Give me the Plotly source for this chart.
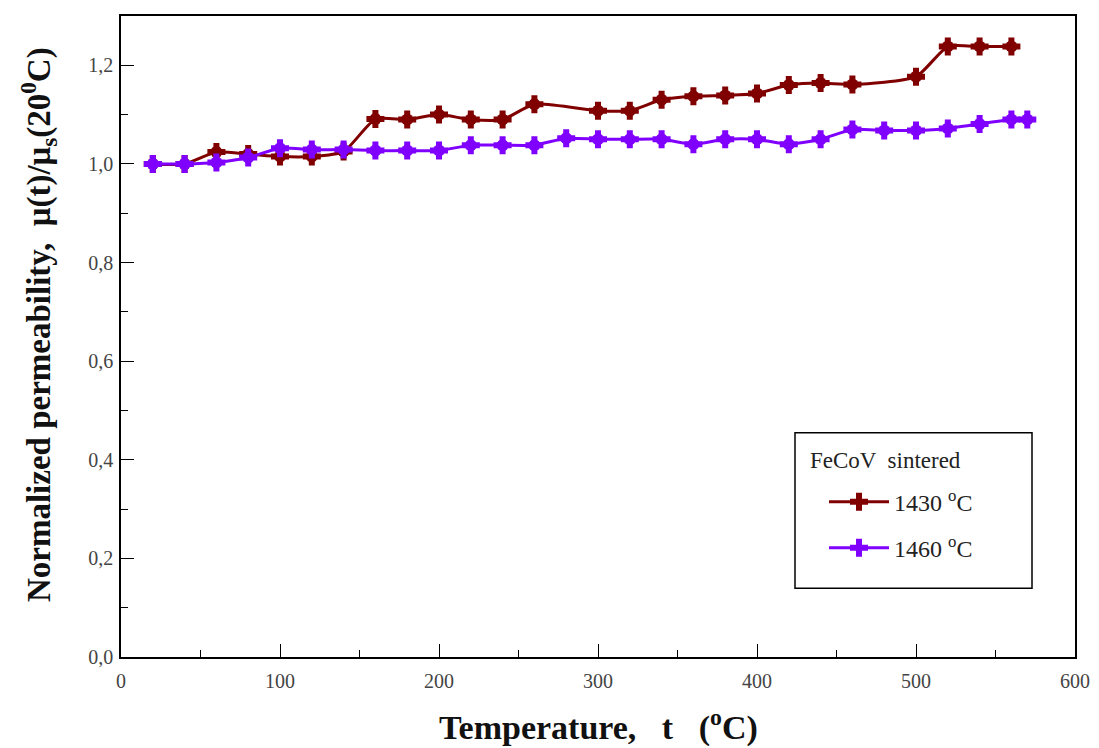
import plotly.graph_objects as go

# Data
t_1430 = [20, 40, 60, 80, 100, 120, 140, 160, 180, 200, 220, 240, 260, 300, 320,
          340, 360, 380, 400, 420, 440, 460, 500, 520, 540, 560]
mu_1430 = [1.00, 1.00, 1.024, 1.02, 1.015, 1.015, 1.025, 1.091, 1.09, 1.10, 1.09, 1.09,
           1.121, 1.108, 1.108, 1.130, 1.137, 1.139, 1.143, 1.160, 1.164, 1.161,
           1.177, 1.238, 1.238, 1.238]

t_1460 = [20, 40, 60, 80, 100, 120, 140, 160, 180, 200, 220, 240, 260, 280, 300,
          320, 340, 360, 380, 400, 420, 440, 460, 480, 500, 520, 540, 560, 570]
mu_1460 = [1.00, 1.00, 1.003, 1.013, 1.032, 1.029, 1.029, 1.027, 1.027, 1.027, 1.038,
           1.038, 1.038, 1.052, 1.05, 1.05, 1.05, 1.04, 1.05, 1.05, 1.04, 1.05,
           1.07, 1.068, 1.068, 1.072, 1.081, 1.09, 1.09]

x_ticks = [0, 100, 200, 300, 400, 500, 600]
y_ticks = [0.0, 0.2, 0.4, 0.6, 0.8, 1.0, 1.2]

FONT = "Liberation Serif"
RED = "#800000"
PURPLE = "#8000FF"

fig = go.Figure()
series = [
    (t_1430, mu_1430, "1430 <sup>o</sup>C", RED, "a"),
    (t_1460, mu_1460, "1460 <sup>o</sup>C", PURPLE, "b"),
]
for x, y, name, col, grp in series:
    fig.add_trace(go.Scatter(
        x=x, y=y, mode="lines+markers", name=name, legendgroup=grp,
        line=dict(color=col, width=3, shape="spline", smoothing=0.6),
        marker=dict(symbol="cross", size=15, color=col, line=dict(width=0)),
    ))
    fig.add_trace(go.Scatter(
        x=x, y=y, mode="markers", legendgroup=grp, showlegend=False,
        marker=dict(symbol="circle", size=12, color=col, line=dict(width=0)),
        hoverinfo="skip",
    ))

PL, PR, PT, PB = 121, 1075, 14, 657  # plot area in page pixels
W = PR - PL
H = PB - PT


def px(xp):
    return (xp - PL) / W


def py(yp):
    return (PB - yp) / H


# legend frame
fig.add_shape(type="rect", xref="paper", yref="paper",
              x0=px(795), x1=px(1032), y0=py(588), y1=py(432),
              line=dict(color="black", width=1.5), fillcolor="rgba(0,0,0,0)")

fig.add_annotation(text="FeCoV  sintered", xref="paper", yref="paper",
                   x=px(808), y=py(460), xanchor="left", yanchor="middle",
                   showarrow=False, font=dict(family=FONT, size=23, color="#222"))

fig.add_annotation(text="<b>Temperature,   t   (<sup>o</sup>C)</b>", xref="paper", yref="paper",
                   x=px(598), y=py(726), xanchor="center", yanchor="middle",
                   showarrow=False, font=dict(family=FONT, size=34, color="#111"))

fig.add_annotation(text="<b>Normalized permeability,  μ(t)/μ<sub>s</sub>(20<sup>0</sup>C)</b>",
                   xref="paper", yref="paper", textangle=-90,
                   x=px(38), y=py(324), xanchor="center", yanchor="middle",
                   showarrow=False, font=dict(family=FONT, size=33, color="#111"))

axis_common = dict(
    showline=True, linecolor="black", linewidth=1.5, mirror=True,
    ticks="inside", ticklen=13, tickwidth=1.2, tickcolor="black",
    showgrid=False, zeroline=False,
    tickfont=dict(family=FONT, size=20, color="#444"),
)

fig.update_layout(
    width=1091, height=740,
    margin=dict(l=PL - 8, r=1099 - PR, t=PT - 8, b=748 - PB),
    paper_bgcolor="white", plot_bgcolor="white",
    separators=",.",
    showlegend=True,
    legend=dict(
        x=px(824), y=py(479), xanchor="left", yanchor="top",
        bgcolor="rgba(0,0,0,0)", borderwidth=0,
        font=dict(family=FONT, size=24, color="#222"),
        tracegroupgap=12, traceorder="grouped", itemwidth=60,
    ),
    xaxis=dict(
        range=[0, 600], tickvals=x_ticks, tickformat="d", ticklabelstandoff=5,
        minor=dict(dtick=50, ticks="inside", ticklen=7, tickcolor="black", tickwidth=1.2),
        **axis_common,
    ),
    yaxis=dict(
        range=[0, 1.3], tickvals=y_ticks, tickformat=".1f", ticklabelstandoff=2,
        minor=dict(dtick=0.1, ticks="inside", ticklen=7, tickcolor="black", tickwidth=1.2),
        **axis_common,
    ),
)

fig.write_html("out.html")
